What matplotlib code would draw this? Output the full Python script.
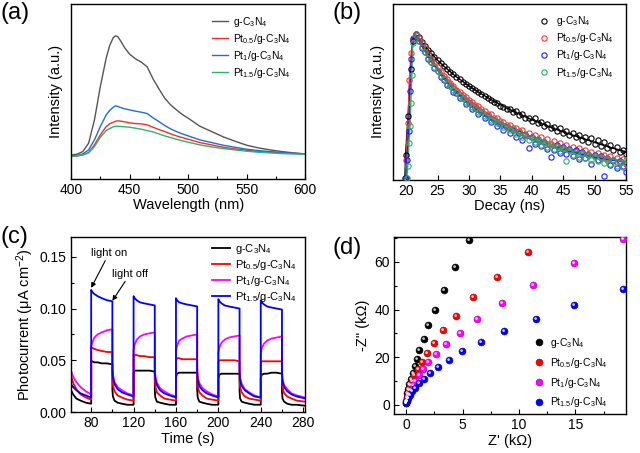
import numpy as np
import matplotlib
matplotlib.use("Agg")
import matplotlib.pyplot as plt
from matplotlib.markers import MarkerStyle
from matplotlib.transforms import Affine2D
from matplotlib.ticker import MultipleLocator

plt.rcParams['font.family'] = ['Liberation Sans', 'DejaVu Sans']
plt.rcParams['mathtext.fontset'] = 'custom'
plt.rcParams['mathtext.rm'] = 'Liberation Sans'
plt.rcParams['mathtext.it'] = 'Liberation Sans:italic'
plt.rcParams['mathtext.bf'] = 'Liberation Sans:bold'

LABELS = ['g-C$_3$N$_4$', 'Pt$_{0.5}$/g-C$_3$N$_4$',
          'Pt$_1$/g-C$_3$N$_4$', 'Pt$_{1.5}$/g-C$_3$N$_4$']

# =============================================================================
# (a) PL spectra
# =============================================================================
PL_WL = [400, 405, 410, 415, 420, 425, 430, 433, 436, 438, 440, 443, 446, 450,
         455, 460, 465, 470, 475, 480, 485, 490, 495, 500, 510, 520, 530, 540,
         550, 560, 570, 580, 590, 600]
PL_G = [72, 74, 82, 107, 177, 277, 362, 400, 423, 429, 426, 410, 392, 374,
        360, 350, 336, 300, 270, 242, 222, 207, 193, 182, 158, 142, 126, 113,
        101, 93, 87, 82, 78, 75]
PL_PT05 = [68, 69, 72, 79, 102, 132, 157, 165, 170, 173, 174, 173, 171, 168,
           166, 165, 162, 155, 148, 142, 135, 129, 124, 119, 109, 102, 95, 90,
           86, 82, 80, 78, 76, 75]
PL_PT1 = [69, 70, 75, 87, 117, 157, 192, 205, 215, 219, 217, 213, 210, 207,
          203, 200, 196, 183, 172, 160, 150, 142, 135, 129, 117, 109, 101, 95,
          89, 85, 82, 79, 77, 75]
PL_PT15 = [68, 69, 72, 78, 97, 125, 145, 151, 156, 158, 158, 157, 156, 155,
           152, 149, 145, 141, 135, 129, 124, 119, 114, 110, 102, 96, 91, 87,
           83, 80, 78, 76, 75, 74]

# =============================================================================
# (b) TRPL decay: rise points, decay points (every 0.5 ns) and fitted curves
# =============================================================================
RISE_T_G = [19.8, 19.9, 20.3, 20.7, 21.05]
RISE_G = [5, 73, 190, 330, 415]
RISE_T_PT05 = [19.9, 20.0, 20.3, 20.5, 20.8, 21.1]
RISE_PT05 = [5, 60, 170, 300, 380, 425]
RISE_T_PT1 = [19.95, 20.1, 20.4, 20.6, 20.85, 21.1]
RISE_PT1 = [5, 60, 145, 265, 362, 420]
RISE_T_PT15 = [20.1, 20.25, 20.45, 20.6, 20.75, 20.9, 21.05]
RISE_PT15 = [5, 40, 111, 160, 230, 315, 408]

DECAY_T = [21.5, 22.0, 22.5, 23.0, 23.5, 24.0, 24.5, 25.0, 25.5, 26.0,
           26.5, 27.0, 27.5, 28.0, 28.5, 29.0, 29.5, 30.0, 30.5, 31.0,
           31.5, 32.0, 32.5, 33.0, 33.5, 34.0, 34.5, 35.0, 35.5, 36.0,
           36.5, 37.0, 37.5, 38.0, 38.5, 39.0, 39.5, 40.0, 40.5, 41.0,
           41.5, 42.0, 42.5, 43.0, 43.5, 44.0, 44.5, 45.0, 45.5, 46.0,
           46.5, 47.0, 47.5, 48.0, 48.5, 49.0, 49.5, 50.0, 50.5, 51.0,
           51.5, 52.0, 52.5, 53.0, 53.5, 54.0, 54.5, 55.0]
DECAY_G = [435, 427, 413, 400, 389, 378, 368, 357, 350, 339,
           332, 322, 316, 307, 301, 293, 288, 280, 276, 268,
           263, 256, 252, 244, 240, 233, 230, 222, 219, 213,
           212, 203, 206, 193, 197, 186, 185, 177, 184, 170,
           173, 162, 167, 155, 158, 147, 155, 139, 146, 133,
           141, 127, 134, 120, 127, 113, 125, 106, 118, 101,
           112, 95, 104, 88, 97, 82, 90, 78]
DECAY_PT05 = [436, 424, 408, 393, 377, 362, 349, 336, 323, 312,
              302, 290, 282, 270, 264, 253, 248, 238, 233, 224,
              220, 211, 207, 198, 196, 186, 184, 176, 173, 164,
              165, 154, 156, 146, 148, 136, 141, 128, 134, 122,
              127, 113, 121, 107, 116, 101, 110, 96, 104, 90,
              99, 85, 94, 79, 89, 74, 84, 70, 79, 64,
              75, 60, 70, 55, 66, 50, 61, 47]
DECAY_PT1 = [433, 414, 395, 381, 362, 352, 333, 325, 307, 300,
             283, 280, 262, 261, 244, 244, 226, 229, 212, 215,
             196, 203, 184, 191, 172, 180, 160, 168, 150, 158,
             140, 150, 128, 141, 120, 134, 95, 128, 108, 120,
             100, 114, 92, 68, 88, 104, 80, 97, 76, 93,
             70, 88, 62, 84, 64, 78, 48, 75, 58, 70,
             12, 64, 45, 60, 36, 55, 40, 22]
DECAY_PT15 = [434, 416, 398, 383, 365, 353, 337, 326, 311, 301,
              288, 281, 268, 262, 250, 245, 233, 230, 218, 216,
              204, 203, 192, 191, 180, 180, 169, 168, 158, 158,
              148, 151, 138, 142, 127, 134, 118, 128, 112, 118,
              104, 112, 98, 106, 93, 101, 86, 95, 55, 88,
              75, 84, 69, 80, 66, 76, 60, 72, 55, 67,
              50, 64, 46, 58, 42, 54, 38, 60]

FIT_T = [21.4, 22, 23, 24, 25, 26, 28, 30, 32, 34, 36, 38, 40, 42, 44, 46,
         48, 50, 52, 54, 55]
FIT_G = [435, 425, 400, 378, 358, 340, 308, 281, 257, 235, 215, 197, 180,
         165, 150, 137, 125, 112, 100, 89, 84]
FIT_PT05 = [435, 422, 391, 363, 337, 314, 274, 240, 211, 186, 164, 145, 129,
            114, 101, 90, 80, 72, 64, 57, 54]
FIT_PT1 = [435, 416, 384, 354, 328, 303, 262, 228, 199, 175, 154, 136, 120,
           107, 95, 85, 76, 68, 61, 55, 52]
FIT_PT15 = [435, 417, 386, 357, 331, 307, 266, 232, 203, 179, 158, 140, 124,
            110, 98, 88, 79, 71, 64, 58, 55]

# =============================================================================
# (c) transient photocurrent (light on at 80, 120, ... ; off 20 s later)
# =============================================================================
PC_T = [61, 63, 66, 70, 75, 80,
        80, 81, 83, 86, 90, 95, 100,
        100, 100.5, 102, 105, 109, 114, 120,
        120, 121, 123, 126, 130, 135, 140,
        140, 140.5, 142, 145, 149, 154, 160,
        160, 161, 163, 166, 170, 175, 180,
        180, 180.5, 182, 185, 189, 194, 200,
        200, 201, 203, 206, 210, 215, 220,
        220, 220.5, 222, 225, 229, 234, 240,
        240, 241, 243, 246, 250, 255, 260,
        260, 260.5, 262, 265, 269, 274, 282]
PC_G = [0.021, 0.017, 0.013, 0.011, 0.009, 0.008,
        0.049, 0.049, 0.048, 0.048, 0.047, 0.047, 0.046,
        0.022, 0.015, 0.011, 0.009, 0.008, 0.007, 0.007,
        0.038, 0.040, 0.040, 0.040, 0.040, 0.040, 0.039,
        0.021, 0.014, 0.010, 0.009, 0.008, 0.007, 0.007,
        0.034, 0.037, 0.038, 0.038, 0.038, 0.038, 0.038,
        0.021, 0.014, 0.010, 0.009, 0.008, 0.007, 0.007,
        0.033, 0.036, 0.037, 0.037, 0.037, 0.037, 0.037,
        0.020, 0.013, 0.010, 0.009, 0.008, 0.007, 0.007,
        0.033, 0.036, 0.037, 0.037, 0.038, 0.038, 0.037,
        0.020, 0.013, 0.010, 0.008, 0.007, 0.007, 0.006]
PC_PT05 = [0.035, 0.028, 0.022, 0.017, 0.014, 0.012,
           0.062, 0.062, 0.061, 0.060, 0.059, 0.058, 0.058,
           0.035, 0.026, 0.020, 0.016, 0.014, 0.012, 0.011,
           0.056, 0.055, 0.055, 0.054, 0.054, 0.053, 0.053,
           0.034, 0.025, 0.019, 0.016, 0.013, 0.012, 0.011,
           0.050, 0.052, 0.052, 0.051, 0.051, 0.051, 0.051,
           0.033, 0.025, 0.019, 0.016, 0.013, 0.012, 0.011,
           0.048, 0.050, 0.050, 0.050, 0.050, 0.050, 0.049,
           0.032, 0.024, 0.019, 0.015, 0.013, 0.012, 0.011,
           0.047, 0.049, 0.049, 0.049, 0.049, 0.049, 0.049,
           0.032, 0.024, 0.018, 0.015, 0.013, 0.011, 0.010]
PC_PT1 = [0.040, 0.034, 0.029, 0.024, 0.020, 0.017,
          0.063, 0.067, 0.072, 0.075, 0.077, 0.079, 0.080,
          0.045, 0.036, 0.029, 0.024, 0.021, 0.018, 0.016,
          0.060, 0.065, 0.070, 0.073, 0.075, 0.076, 0.077,
          0.044, 0.035, 0.028, 0.023, 0.020, 0.017, 0.015,
          0.059, 0.064, 0.069, 0.071, 0.073, 0.074, 0.075,
          0.043, 0.034, 0.028, 0.023, 0.020, 0.017, 0.015,
          0.057, 0.063, 0.067, 0.070, 0.072, 0.073, 0.074,
          0.042, 0.033, 0.027, 0.022, 0.019, 0.016, 0.014,
          0.056, 0.062, 0.066, 0.069, 0.071, 0.072, 0.073,
          0.041, 0.032, 0.026, 0.022, 0.018, 0.016, 0.014]
PC_PT15 = [0.027, 0.024, 0.021, 0.018, 0.016, 0.014,
           0.118, 0.116, 0.114, 0.112, 0.110, 0.108, 0.107,
           0.042, 0.033, 0.027, 0.022, 0.019, 0.017, 0.015,
           0.112, 0.110, 0.108, 0.106, 0.105, 0.104, 0.103,
           0.040, 0.032, 0.026, 0.021, 0.018, 0.016, 0.014,
           0.110, 0.108, 0.106, 0.105, 0.104, 0.103, 0.102,
           0.040, 0.031, 0.025, 0.021, 0.018, 0.016, 0.014,
           0.109, 0.107, 0.105, 0.103, 0.102, 0.101, 0.100,
           0.039, 0.031, 0.025, 0.021, 0.018, 0.015, 0.014,
           0.108, 0.106, 0.104, 0.102, 0.101, 0.100, 0.099,
           0.038, 0.030, 0.024, 0.020, 0.017, 0.015, 0.013]

# =============================================================================
# (d) Nyquist plots (kOhm)
# =============================================================================
EIS_X_G = [0.0, 0.03, 0.06, 0.12, 0.18, 0.29, 0.41, 0.59, 0.79, 1.0, 1.18,
           1.59, 1.97, 2.56, 3.35, 4.3, 5.6]
EIS_Y_G = [0.6, 1.7, 3.2, 4.9, 6.6, 8.7, 10.9, 13.3, 16.1, 19.2, 23.1,
           27.6, 33.4, 40.0, 48.0, 57.9, 69.4]
EIS_X_PT05 = [0.03, 0.09, 0.15, 0.24, 0.38, 0.53, 0.74, 1.03, 1.38, 1.82,
              2.5, 3.29, 4.41, 5.94, 8.06, 10.8]
EIS_Y_PT05 = [1.3, 2.7, 4.2, 6.0, 8.1, 10.1, 12.3, 15.0, 18.0, 21.7,
              25.9, 31.3, 37.4, 45.2, 53.7, 64.2]
EIS_X_PT1 = [0.06, 0.15, 0.26, 0.41, 0.59, 0.82, 1.12, 1.47, 1.97, 2.62,
             3.53, 4.76, 6.32, 8.47, 11.2, 14.9, 19.2]
EIS_Y_PT1 = [1.4, 2.8, 4.5, 6.2, 8.1, 10.1, 12.3, 14.9, 18.0, 21.3,
             25.5, 30.2, 36.2, 42.6, 50.5, 59.6, 69.7]
EIS_X_PT15 = [0.03, 0.09, 0.18, 0.32, 0.53, 0.79, 1.12, 1.56, 2.12, 2.82,
              3.76, 4.97, 6.6, 8.7, 11.5, 14.9, 19.2]
EIS_Y_PT15 = [0.6, 1.5, 2.8, 4.2, 5.6, 7.2, 9.0, 10.9, 13.2, 15.8,
              18.9, 22.4, 26.4, 31.1, 36.2, 42.1, 48.8]

TICK_FS = 10
LABEL_FS = 10.5


def style_axes(ax):
    for spine in ax.spines.values():
        spine.set_linewidth(1.0)
    ax.tick_params(which='both', direction='in', labelsize=TICK_FS, width=0.8,
                   top=False, right=False, pad=3)
    ax.tick_params(which='major', length=3.5)
    ax.tick_params(which='minor', length=2)


fig = plt.figure(figsize=(6.4, 4.53), dpi=100)

# ---------------- (a) ----------------
ax_a = fig.add_axes([0.111, 0.605, 0.366, 0.386])
pl_colors = ['#555555', '#ff2a2a', '#1f6fd0', '#2db36b']
for vals, c, lab in zip([PL_G, PL_PT05, PL_PT1, PL_PT15], pl_colors, LABELS):
    ax_a.plot(PL_WL, vals, color=c, lw=1.0, label=lab)
ax_a.set_xlim(400, 600)
ax_a.set_ylim(0, 524)
ax_a.set_yticks([])
ax_a.xaxis.set_major_locator(MultipleLocator(50))
ax_a.xaxis.set_minor_locator(MultipleLocator(25))
style_axes(ax_a)
ax_a.set_xlabel('Wavelength (nm)', fontsize=LABEL_FS, labelpad=1)
ax_a.set_ylabel('Intensity (a.u.)', fontsize=LABEL_FS, labelpad=6)
ax_a.legend(loc='upper left', bbox_to_anchor=(0.6, 0.94), frameon=False,
            fontsize=7.5, handlelength=1.6, handletextpad=0.5,
            labelspacing=0.3, borderpad=0, borderaxespad=0)

# ---------------- (b) ----------------
ax_b = fig.add_axes([0.614, 0.603, 0.364, 0.389])
tr_colors = ['#000000', '#ff3333', '#1a1aff', '#33aa66']
rise_t = [RISE_T_G, RISE_T_PT05, RISE_T_PT1, RISE_T_PT15]
rise_v = [RISE_G, RISE_PT05, RISE_PT1, RISE_PT15]
decay_v = [DECAY_G, DECAY_PT05, DECAY_PT1, DECAY_PT15]
fit_v = [FIT_G, FIT_PT05, FIT_PT1, FIT_PT15]
for rt, rv, fv, c in zip(rise_t, rise_v, fit_v, tr_colors):
    ax_b.plot(rt + FIT_T, rv + fv, color=c, lw=1.0, zorder=2)
for rt, rv, dv, c, lab in zip(rise_t, rise_v, decay_v, tr_colors, LABELS):
    ax_b.plot(rt + DECAY_T, rv + dv, ls='none', marker='o', ms=3.8,
              mfc='none', mec=c, mew=0.8, label=lab, zorder=3)
ax_b.set_xlim(17.9, 55)
ax_b.set_ylim(0, 527)
ax_b.set_yticks([])
ax_b.xaxis.set_major_locator(MultipleLocator(5))
style_axes(ax_b)
ax_b.set_xlabel('Decay (ns)', fontsize=LABEL_FS, labelpad=1)
ax_b.set_ylabel('Intensity (a.u.)', fontsize=LABEL_FS, labelpad=6)
ax_b.legend(loc='upper left', bbox_to_anchor=(0.62, 0.94), frameon=False,
            fontsize=7.5, handlelength=1.2, handletextpad=0.6,
            labelspacing=0.3, borderpad=0, borderaxespad=0)

# ---------------- (c) ----------------
ax_c = fig.add_axes([0.111, 0.0905, 0.366, 0.386])
pc_colors = ['#000000', '#ff0000', '#ff00ff', '#0000ff']
for vals, c, lab in zip([PC_G, PC_PT05, PC_PT1, PC_PT15], pc_colors, LABELS):
    ax_c.plot(PC_T, vals, color=c, lw=1.3, label=lab)
ax_c.set_xlim(61, 282)
ax_c.set_ylim(0, 0.169)
ax_c.xaxis.set_major_locator(MultipleLocator(40))
ax_c.xaxis.set_minor_locator(MultipleLocator(20))
ax_c.yaxis.set_major_locator(MultipleLocator(0.05))
ax_c.yaxis.set_minor_locator(MultipleLocator(0.025))
ax_c.yaxis.set_major_formatter(matplotlib.ticker.FormatStrFormatter('%.2f'))
style_axes(ax_c)
ax_c.set_xlabel('Time (s)', fontsize=LABEL_FS, labelpad=1)
ax_c.set_ylabel('Photocurrent (μA cm$^{-2}$)', fontsize=LABEL_FS, labelpad=3)
ax_c.legend(loc='upper left', bbox_to_anchor=(0.6, 0.975), frameon=False,
            fontsize=8, handlelength=1.7, handletextpad=0.4,
            labelspacing=0.2, borderpad=0, borderaxespad=0)
arrow_kw = dict(arrowstyle='-|>', color='black', lw=0.8, mutation_scale=7,
                shrinkA=0, shrinkB=0)
ax_c.annotate('light on', xy=(80, 0.120), xytext=(80, 0.149),
              fontsize=8, ha='left', va='bottom', arrowprops=arrow_kw)
ax_c.annotate('light off', xy=(100, 0.1075), xytext=(100, 0.129),
              fontsize=8, ha='left', va='bottom', arrowprops=arrow_kw)

# ---------------- (d) ----------------
ax_d = fig.add_axes([0.616, 0.086, 0.3625, 0.391])
eis_colors = ['#000000', '#ff0000', '#ff00ff', '#0000ff']
eis_edges = ['#000000', '#a00000', '#a000a0', '#0000a0']
shine = MarkerStyle('o', transform=Affine2D().scale(0.4).translate(-0.13, 0.13))
eis_x = [EIS_X_G, EIS_X_PT05, EIS_X_PT1, EIS_X_PT15]
eis_y = [EIS_Y_G, EIS_Y_PT05, EIS_Y_PT1, EIS_Y_PT15]
for xs, ys, c, ec, lab in zip(eis_x, eis_y, eis_colors, eis_edges, LABELS):
    ax_d.plot(xs, ys, ls='none', marker='o', ms=5, mfc=c, mec=ec, mew=0.4,
              label=lab, zorder=3)
    ax_d.plot(xs, ys, ls='none', marker=shine, ms=5, mfc='white', mec='none',
              alpha=0.75, zorder=4)
ax_d.set_xlim(-1.05, 19.5)
ax_d.set_ylim(-3.9, 70.5)
ax_d.xaxis.set_major_locator(MultipleLocator(5))
ax_d.xaxis.set_minor_locator(MultipleLocator(2.5))
ax_d.yaxis.set_major_locator(MultipleLocator(20))
ax_d.yaxis.set_minor_locator(MultipleLocator(10))
style_axes(ax_d)
ax_d.set_xlabel("Z' (kΩ)", fontsize=LABEL_FS, labelpad=1)
ax_d.set_ylabel('-Z" (kΩ)', fontsize=LABEL_FS, labelpad=3)
ax_d.legend(loc='upper left', bbox_to_anchor=(0.6, 0.44), frameon=False,
            fontsize=7.5, handlelength=1.0, handletextpad=0.6,
            labelspacing=0.55, borderpad=0, borderaxespad=0)

# panel letters
fig.text(0.0, 0.995, '(a)', fontsize=17, ha='left', va='top')
fig.text(0.52, 0.995, '(b)', fontsize=17, ha='left', va='top')
fig.text(0.0, 0.502, '(c)', fontsize=17, ha='left', va='top')
fig.text(0.52, 0.477, '(d)', fontsize=17, ha='left', va='top')

fig.savefig('out.png', dpi=100)
